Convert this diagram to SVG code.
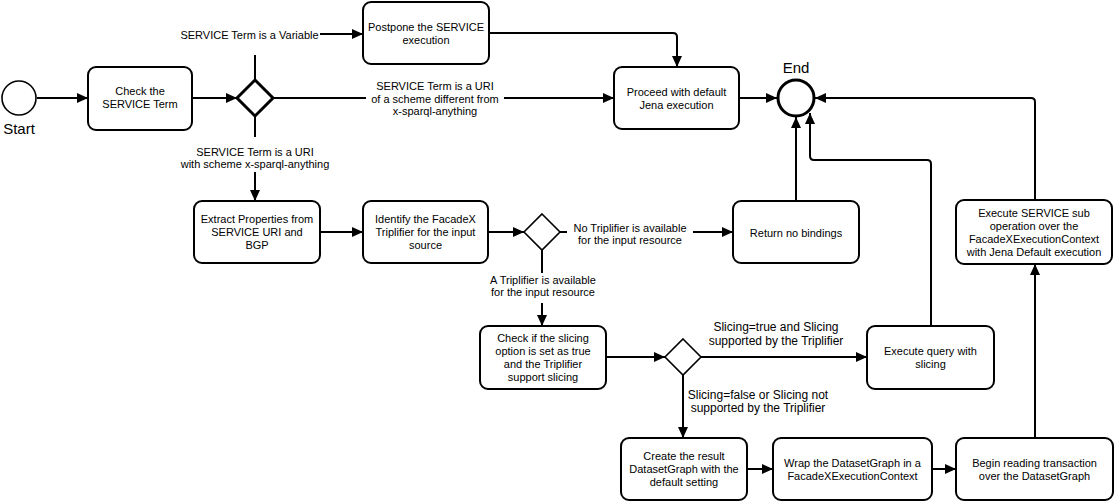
<svg xmlns="http://www.w3.org/2000/svg" width="1115" height="502" viewBox="0 0 1115 502">
<defs>
<marker id="arr" markerUnits="userSpaceOnUse" markerWidth="12" markerHeight="10" refX="11" refY="5" orient="auto">
<path d="M0,0 L11,5 L0,10 Z" fill="#000"/>
</marker>
<style>
.box{fill:#fff;stroke:#000;stroke-width:2}
.gw{fill:#fff;stroke:#000;stroke-width:1.6}
.gwb{fill:#fff;stroke:#000;stroke-width:3}
.ev{fill:#fff;stroke:#000;stroke-width:1.6}
.evb{fill:#fff;stroke:#000;stroke-width:3}
.edge{fill:none;stroke:#000;stroke-width:2;marker-end:url(#arr)}
.seg{fill:none;stroke:#000;stroke-width:2}
text{font-family:"Liberation Sans",Arial,Helvetica,sans-serif;fill:#000;text-anchor:middle}
.t{font-size:11px}
.l{font-size:11px}
.l12{font-size:12px}
.big{font-size:15px}
</style>
</defs>
<g id="connectors">
<path class="edge" d="M37,98 H88"/>
<path class="edge" d="M192,98 H237"/>
<path class="seg" d="M255,80 V55"/>
<path class="edge" d="M320,34 H363"/>
<path class="seg" d="M273,98 H366"/>
<path class="edge" d="M504,98 H614"/>
<path class="seg" d="M255,116 V137"/>
<path class="edge" d="M255,172 V201"/>
<path class="edge" d="M489,33 H673 Q677,33 677,37 V67"/>
<path class="edge" d="M739,98 H777"/>
<path class="edge" d="M320,232 H363"/>
<path class="edge" d="M488,232 H524"/>
<path class="seg" d="M560,232 H567"/>
<path class="edge" d="M693,232 H733"/>
<path class="seg" d="M542,250 V273"/>
<path class="edge" d="M542,303 V326"/>
<path class="edge" d="M796,201 V117"/>
<path class="edge" d="M606,357 H665"/>
<path class="edge" d="M701,357 H867"/>
<path class="edge" d="M683,375 V438"/>
<path class="edge" d="M931,326 V164 Q931,160 927,160 H814 Q810,160 810,156 V113"/>
<path class="edge" d="M747,469 H773"/>
<path class="edge" d="M932,469 H956"/>
<path class="edge" d="M1035,438 V264"/>
<path class="edge" d="M1035,200 V102 Q1035,98 1031,98 H815"/>
<text class="l" x="249.5" y="39">SERVICE Term is a Variable</text>
<text class="l" x="435" y="90">SERVICE Term is a URI</text>
<text class="l" x="435" y="102.5">of a scheme different from</text>
<text class="l" x="435" y="115">x-sparql-anything</text>
<text class="l" x="255" y="155.5">SERVICE Term is a URI</text>
<text class="l" x="255" y="168">with scheme x-sparql-anything</text>
<text class="l" x="630" y="232">No Triplifier is available</text>
<text class="l" x="630" y="244">for the input resource</text>
<text class="l" x="543" y="284">A Triplifier is available</text>
<text class="l" x="543" y="296">for the input resource</text>
<text class="l12" x="776" y="330.5">Slicing=true and Slicing</text>
<text class="l12" x="776" y="344.5">supported by the Triplifier</text>
<text class="l12" x="758" y="398.5">Slicing=false or Slicing not</text>
<text class="l12" x="758" y="411.5">supported by the Triplifier</text>
</g>
<g id="start">
<circle class="ev" cx="19" cy="98" r="17"/>
<text class="big" x="19" y="134">Start</text>
</g>
<g id="end">
<circle class="evb" cx="796" cy="98" r="18"/>
<text class="big" x="796" y="73">End</text>
</g>
<g id="check-term">
<rect class="box" x="88" y="67" width="104" height="63" rx="8"/>
<text class="t" x="140" y="95">Check the</text>
<text class="t" x="140" y="108">SERVICE Term</text>
</g>
<g id="gw-term">
<path class="gwb" d="M255,80 L273,98 L255,116 L237,98 Z"/>
</g>
<g id="postpone">
<rect class="box" x="363" y="2" width="126" height="62" rx="8"/>
<text class="t" x="426" y="31">Postpone the SERVICE</text>
<text class="t" x="426" y="44">execution</text>
</g>
<g id="proceed">
<rect class="box" x="614" y="67" width="125" height="62" rx="8"/>
<text class="t" x="676.5" y="96">Proceed with default</text>
<text class="t" x="676.5" y="109">Jena execution</text>
</g>
<g id="extract">
<rect class="box" x="194" y="201" width="126" height="62" rx="8"/>
<text class="t" x="257" y="223">Extract Properties from</text>
<text class="t" x="257" y="236">SERVICE URI and</text>
<text class="t" x="257" y="249">BGP</text>
</g>
<g id="identify">
<rect class="box" x="363" y="201" width="125" height="62" rx="8"/>
<text class="t" x="425.5" y="223">Identify the FacadeX</text>
<text class="t" x="425.5" y="236">Triplifier for the input</text>
<text class="t" x="425.5" y="249">source</text>
</g>
<g id="gw-triplifier">
<path class="gw" d="M542,214 L560,232 L542,250 L524,232 Z"/>
</g>
<g id="return-none">
<rect class="box" x="733" y="201" width="126" height="62" rx="8"/>
<text class="t" x="796" y="237">Return no bindings</text>
</g>
<g id="execute-service">
<rect class="box" x="956" y="200" width="156" height="64" rx="8"/>
<text class="t" x="1034" y="217">Execute SERVICE sub</text>
<text class="t" x="1034" y="230">operation over the</text>
<text class="t" x="1034" y="243">FacadeXExecutionContext</text>
<text class="t" x="1034" y="256">with Jena Default execution</text>
</g>
<g id="check-slicing">
<rect class="box" x="480" y="326" width="126" height="63" rx="8"/>
<text class="t" x="543" y="342">Check if the slicing</text>
<text class="t" x="543" y="355">option is set as true</text>
<text class="t" x="543" y="368">and the Triplifier</text>
<text class="t" x="543" y="381">support slicing</text>
</g>
<g id="gw-slicing">
<path class="gw" d="M683,339 L701,357 L683,375 L665,357 Z"/>
</g>
<g id="execute-query">
<rect class="box" x="867" y="326" width="127" height="63" rx="8"/>
<text class="t" x="930.5" y="355">Execute query with</text>
<text class="t" x="930.5" y="368">slicing</text>
</g>
<g id="create">
<rect class="box" x="621" y="438" width="126" height="62" rx="8"/>
<text class="t" x="684" y="460">Create the result</text>
<text class="t" x="684" y="473">DatasetGraph with the</text>
<text class="t" x="684" y="486">default setting</text>
</g>
<g id="wrap">
<rect class="box" x="773" y="438" width="159" height="62" rx="8"/>
<text class="t" x="852.5" y="467">Wrap the DatasetGraph in a</text>
<text class="t" x="852.5" y="480">FacadeXExecutionContext</text>
</g>
<g id="begin">
<rect class="box" x="956" y="438" width="157" height="62" rx="8"/>
<text class="t" x="1034.5" y="467">Begin reading transaction</text>
<text class="t" x="1034.5" y="480">over the DatasetGraph</text>
</g>
</svg>
